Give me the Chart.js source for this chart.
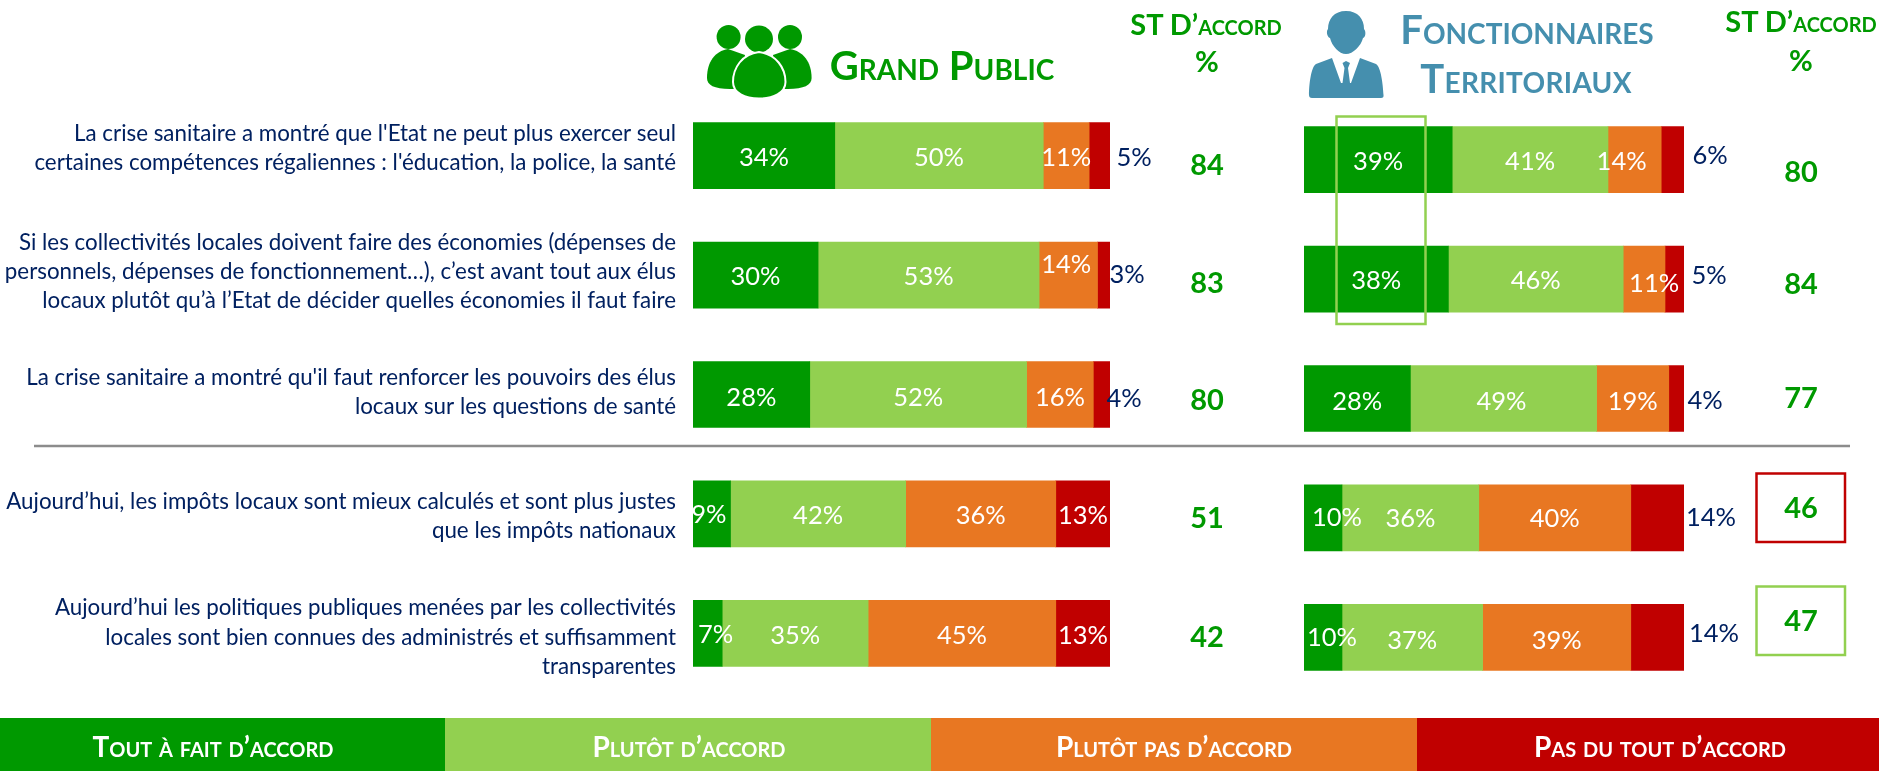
<!DOCTYPE html>
<html lang="fr">
<head>
<meta charset="utf-8">
<title>Grand public / Fonctionnaires territoriaux</title>
<script src="https://cdn.jsdelivr.net/npm/chart.js@4"></script>
<style>
html,body{margin:0;padding:0;background:#fff;width:1879px;height:771px;overflow:hidden}
canvas,svg{position:absolute;left:0;top:0}
.t{position:absolute;transform:translate(-50%,-50%);white-space:nowrap;font-family:Lato,sans-serif;font-weight:700;font-variant:small-caps;line-height:1}
.band{position:absolute;top:718px;height:53px}
</style>
</head>
<body>
<canvas id="gp" width="1879" height="771"></canvas>
<canvas id="ft" width="1879" height="771"></canvas>
<svg width="1879" height="771" viewBox="0 0 1879 771">
  <g fill="#009900">
    <circle cx="728.6" cy="37" r="12"/><circle cx="790" cy="37" r="12"/>
    <ellipse cx="759" cy="39" rx="14" ry="13.5"/>
    <path d="M728 49C715 51 707 62 707 78C707 85 714 89 730 89L740 89L745 55Z"/>
    <path d="M790 49C803 51 811.6 62 811.6 78C811.6 85 804 89 788 89L778 89L773 55Z"/>
    <path stroke="#fff" stroke-width="2" d="M759 52C742 54 733 68 733 82C733 93 745 98.5 759 98.5C773 98.5 785.5 93 785.5 82C785.5 68 776 54 759 52Z"/>
  </g>
  <g fill="#458FAE">
    <path d="M1346 11C1334 11 1328 19 1328 29C1326 31 1327 37 1330 38C1332 46 1339 54 1346 54C1353 54 1361 46 1363 38C1366 37 1366 31 1364 29C1364 19 1358 11 1346 11Z"/>
    <path d="M1332 58L1316 64C1311 67 1309 85 1309 95Q1309 98 1312 98L1381 98Q1384 98 1383.5 95C1383 85 1381 67 1376 64L1360 58L1351 83L1350 83L1348 68L1350 63L1346 61L1342.5 63L1344.5 68L1342.5 83L1341 83Z"/>
  </g>
  <line x1="34" y1="446" x2="1850" y2="446" stroke="#8c8c8c" stroke-width="2.5"/>
  <rect x="1336.5" y="116.5" width="89" height="207.5" fill="none" stroke="#92D050" stroke-width="2.5"/>
  <rect x="1756.5" y="473.5" width="88.5" height="68.5" fill="none" stroke="#C00000" stroke-width="2.5"/>
  <rect x="1756.5" y="586.5" width="88.5" height="68.5" fill="none" stroke="#92D050" stroke-width="2.5"/>
</svg>
<div class="t" style="left:942px;top:65px;font-size:40px;color:#009900">Grand Public</div>
<div class="t" style="left:1527px;top:29px;font-size:40px;color:#458FAE">Fonctionnaires</div>
<div class="t" style="left:1526px;top:78px;font-size:40px;letter-spacing:.3px;color:#458FAE">Territoriaux</div>
<div class="t" style="left:1206px;top:23px;font-size:29px;color:#009900">ST D’accord</div>
<div class="t" style="left:1207px;top:60px;font-size:29px;color:#009900">%</div>
<div class="t" style="left:1801px;top:20px;font-size:29px;color:#009900">ST D’accord</div>
<div class="t" style="left:1801px;top:59px;font-size:29px;color:#009900">%</div>
<div id="legend"></div>
<script>
const categories = [
  ["La crise sanitaire a montré que l'Etat ne peut plus exercer seul", "certaines compétences régaliennes : l'éducation, la police, la santé"],
  ["Si les collectivités locales doivent faire des économies (dépenses de", "personnels, dépenses de fonctionnement…), c’est avant tout aux élus", "locaux plutôt qu’à l’Etat de décider quelles économies il faut faire"],
  ["La crise sanitaire a montré qu'il faut renforcer les pouvoirs des élus", "locaux sur les questions de santé"],
  ["Aujourd’hui, les impôts locaux sont mieux calculés et sont plus justes", "que les impôts nationaux"],
  ["Aujourd’hui les politiques publiques menées par les collectivités", "locales sont bien connues des administrés et suffisamment", "transparentes"]
];
const seriesNames = ["Tout à fait d’accord", "Plutôt d’accord", "Plutôt pas d’accord", "Pas du tout d’accord"];
const seriesColors = ["#009900", "#92D050", "#E87722", "#C00000"];

const publicToutAFait = [34, 30, 28, 9, 7];
const publicPlutot    = [50, 53, 52, 42, 35];
const publicPlutotPas = [11, 14, 16, 36, 45];
const publicPasDuTout = [5, 3, 4, 13, 13];
const publicStAccord  = [84, 83, 80, 51, 42];

const fonctToutAFait = [39, 38, 28, 10, 10];
const fonctPlutot    = [41, 46, 49, 36, 37];
const fonctPlutotPas = [14, 11, 19, 40, 39];
const fonctPasDuTout = [6, 5, 4, 14, 14];
const fonctStAccord  = [80, 84, 77, 46, 47];

/* Label nudges in px: [dx, dy] per series (rows inside) relative to the segment centre */
const publicNudge = [
  [[0,2],[0,2],[0,3],[-3,1],[8,1]],
  [[0,2],[0,2],[0,3],[0,2],[0,2]],
  [[0,2],[-2,-10],[0,3],[0,2],[0,2]],
  [[0,2],[0,0],[0,4],[0,2],[0,2]]
];
const fonctNudge = [
  [[0,2],[0,2],[0,3],[14,0],[9,0]],
  [[0,2],[0,2],[-2,3],[0,1],[0,3]],
  [[-13,2],[10,5],[0,3],[0,1],[0,3]],
  [[0,-4],[0,-3],[0,2],[0,0],[0,-4]]
];
const publicOutsideX = [24, 17, 14, null, null];
const fonctOutsideX = [26, 25, 21, 27, 30];
const publicTotalDy = [10, 9, 6, 5, 4];
const fonctTotalDy = [13, 6, 0, -9, -16];

const FONT = 'Lato, sans-serif';
const NAVY = '#002060';

function datasets(rows){
  return rows.map((d,i)=>({label:seriesNames[i],data:d,backgroundColor:seriesColors[i],borderWidth:0,barThickness:66,stack:'s'}));
}
const questionDy = [-7, -3, -2, 2, 4];
const overlay = (nudge, outsideX, totals, totalX, totalDy) => ({
  id:'overlay',
  beforeDraw(chart){
    const y = chart.scales.y;
    if(y.options.display){
      const items = y.getLabelItems();
      items.forEach((it,i)=>{ it.options.translation = [it.options.translation[0], it.options.translation[1] + questionDy[i]]; });
    }
  },
  afterDatasetsDraw(chart){
    const c = chart.ctx, n = chart.data.datasets.length;
    c.save();
    c.textAlign='center'; c.textBaseline='middle';
    chart.data.datasets.forEach((ds,s)=>{
      chart.getDatasetMeta(s).data.forEach((el,r)=>{
        const nd = nudge[s][r], outside = s===n-1 && outsideX[r]!==null;
        const x = outside ? el.x + outsideX[r] : (el.x+el.base)/2 + nd[0];
        c.font = '400 25.5px '+FONT;
        c.fillStyle = outside ? NAVY : '#fff';
        c.fillText(ds.data[r]+'%', x, el.y + nd[1]);
      });
    });
    c.font = '700 29px '+FONT; c.fillStyle = '#009900';
    totals.forEach((t,r)=> c.fillText(String(t), totalX, chart.scales.y.getPixelForValue(r)+totalDy[r]));
    c.restore();
  }
});
function makeChart(id, rows, padding, showLabels, plugin){
  return new Chart(document.getElementById(id),{
    type:'bar',
    data:{labels:categories,datasets:datasets(rows)},
    plugins:[plugin],
    options:{
      indexAxis:'y',responsive:false,animation:false,devicePixelRatio:1,
      layout:{padding},
      plugins:{legend:{display:false},tooltip:{enabled:false},title:{display:false}},
      scales:{
        x:{stacked:true,min:0,max:100,display:false},
        y:{stacked:true,display:showLabels,afterFit:s=>{if(showLabels)s.width=693},
           grid:{display:false},border:{display:false},
           ticks:{autoSkip:false,padding:9,color:NAVY,crossAlign:'near',font:{family:FONT,size:22.35,lineHeight:1.3}}}
      }
    }
  });
}
makeChart('gp',[publicToutAFait,publicPlutot,publicPlutotPas,publicPasDuTout],{left:0,right:769,top:96,bottom:78},true,overlay(publicNudge,publicOutsideX,publicStAccord,1207,publicTotalDy));
makeChart('ft',[fonctToutAFait,fonctPlutot,fonctPlutotPas,fonctPasDuTout],{left:1304,right:195,top:100,bottom:74},false,overlay(fonctNudge,fonctOutsideX,fonctStAccord,1801,fonctTotalDy));

const bands=[[0,445,213],[445,931,689],[931,1417,1174],[1417,1879,1660]];
document.getElementById('legend').innerHTML=seriesNames.map((n,i)=>{
  const b=bands[i];
  return `<div class="band" style="left:${b[0]}px;width:${b[1]-b[0]}px;background:${seriesColors[i]}"></div><div class="t" style="left:${b[2]}px;top:746px;font-size:28px;color:#fff">${n}</div>`;
}).join('');
</script>
</body>
</html>
